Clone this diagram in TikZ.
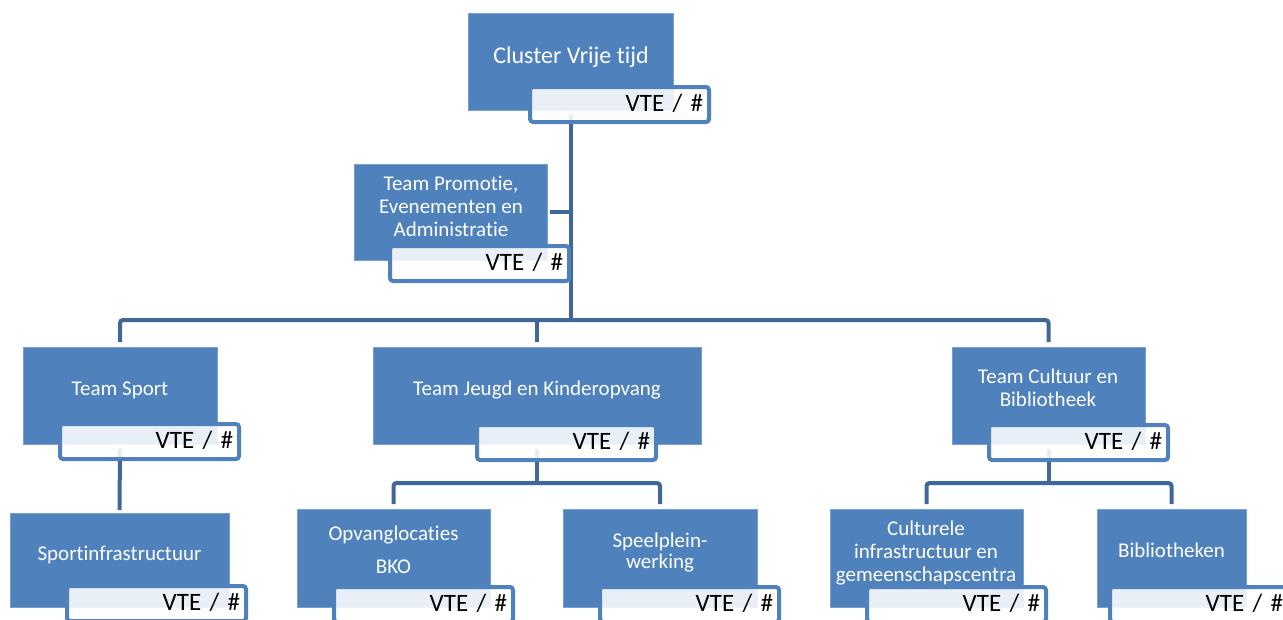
\documentclass[tikz,border=0pt]{standalone}
\usepackage{fontspec}
\setmainfont{Carlito}[RawFeature={-liga;-clig;-calt}]
\usetikzlibrary{calc}
\definecolor{boxblue}{RGB}{79,129,189}
\definecolor{edgeblue}{RGB}{122,158,206}
\definecolor{lineblue}{RGB}{63,103,152}
\begin{document}
\begin{tikzpicture}[x=1pt,y=-1pt,
  bluebox/.style={fill=boxblue, draw=edgeblue, line width=0.8pt, inner sep=0pt, outer sep=0pt, anchor=north west},
  vtebox/.style={fill=white, fill opacity=0.88, text opacity=1, draw=boxblue, line width=4pt,
    rounded corners=3pt, minimum width=179pt, minimum height=35pt, inner xsep=6pt, inner ysep=0pt,
    text width=167pt, align=right, text height=16pt, text depth=3pt,
    font=\fontsize{25}{28}\selectfont, anchor=north west, outer sep=0pt},
  lbl/.style={text=white, font=\fontsize{21}{23}\selectfont, align=center, inner sep=0pt},
  conn/.style={draw=lineblue, line width=4pt, rounded corners=3pt}]
\clip (0,0) rectangle (1283,619);
\fill[white] (0,0) rectangle (1283,619);

% blue boxes
\node[bluebox, minimum width=205pt, minimum height=97pt] (cl) at (468,13) {};
\node[bluebox, minimum width=193pt, minimum height=96pt] (pr) at (354,164) {};
\node[bluebox, minimum width=194pt, minimum height=97pt] (sp) at (23,347) {};
\node[bluebox, minimum width=328pt, minimum height=97pt] (je) at (373,347) {};
\node[bluebox, minimum width=193pt, minimum height=97pt] (cu) at (952,347) {};
\node[bluebox, minimum width=219pt, minimum height=94pt] (si) at (10,513) {};
\node[bluebox, minimum width=193pt, minimum height=98pt] (op) at (297,509) {};
\node[bluebox, minimum width=194pt, minimum height=98pt] (sl) at (563,509) {};
\node[bluebox, minimum width=193pt, minimum height=98pt] (cc) at (830,509) {};
\node[bluebox, minimum width=149pt, minimum height=98pt] (bi) at (1097,509) {};

% connector helper coordinates
\coordinate (bus) at (0,320);
\coordinate (jsub) at (0,483);

% connectors
\draw[conn] ([yshift=-5pt]cl.south) -- (cl.south |- bus);
\draw[conn] ([xshift=3pt]pr.east) -- (pr.east -| cl.south);
\draw[conn] ([yshift=5pt]sp.north) -- (sp.north |- bus) -- (cu.north |- bus) -- ([yshift=5pt]cu.north);
\draw[conn] (je.north |- bus) -- ([yshift=5pt]je.north);
\draw[conn] ([yshift=-5pt]sp.south) -- ([yshift=3pt]si.north);
\draw[conn] ([yshift=-5pt]je.south) -- (je.south |- jsub);
\draw[conn] ([yshift=5pt]op.north) -- (op.north |- jsub) -- (sl.north |- jsub) -- ([yshift=5pt]sl.north);
\draw[conn] ([yshift=-5pt]cu.south) -- (cu.south |- jsub);
\draw[conn] ([yshift=5pt]cc.north) -- (cc.north |- jsub) -- (bi.north |- jsub) -- ([yshift=5pt]bi.north);

% VTE boxes
\node[vtebox] (clv) at (530,87) {VTE / \#};
\node[vtebox] (prv) at (390,246) {VTE / \#};
\node[vtebox] (spv) at (60,424) {VTE / \#};
\node[vtebox] (jev) at (477,425) {VTE / \#};
\node[vtebox] (cuv) at (989,425) {VTE / \#};
\node[vtebox] (siv) at (67,586) {VTE / \#};
\node[vtebox] (opv) at (334,587) {VTE / \#};
\node[vtebox] (slv) at (600,587) {VTE / \#};
\node[vtebox] (ccv) at (867,587) {VTE / \#};
\node[vtebox] (biv) at (1110,587) {VTE / \#};

% labels
\node[lbl, font=\fontsize{24}{28}\selectfont, anchor=base] (clt) at (571,63) {Cluster Vrije tijd};
\node[lbl] (prt) at (451,208.4) {\strut Team Promotie,\\\strut Evenementen en\\\strut Administratie};
\node[lbl, anchor=base] (spt) at (120,395) {Team Sport};
\node[lbl, anchor=base] (jet) at (537,395) {Team Jeugd en Kinderopvang};
\node[lbl] (cut) at (1048,390) {\strut Team Cultuur en\\\strut Bibliotheek};
\node[lbl, anchor=base] (sit) at (119.5,560) {Sportinfrastructuur};
\node[lbl] (opt) at (393.5,552) {\strut Opvanglocaties\\[10pt]\strut BKO};
\node[lbl] (slt) at (660,553) {\strut Speelplein-\\[-2pt]\strut werking};
\node[lbl] (cct) at (926,553.4) {\strut Culturele\\\strut infrastructuur en\\\strut gemeenschapscentra};
\node[lbl, anchor=base] (bit) at (1171.5,557) {Bibliotheken};
\end{tikzpicture}
\end{document}
